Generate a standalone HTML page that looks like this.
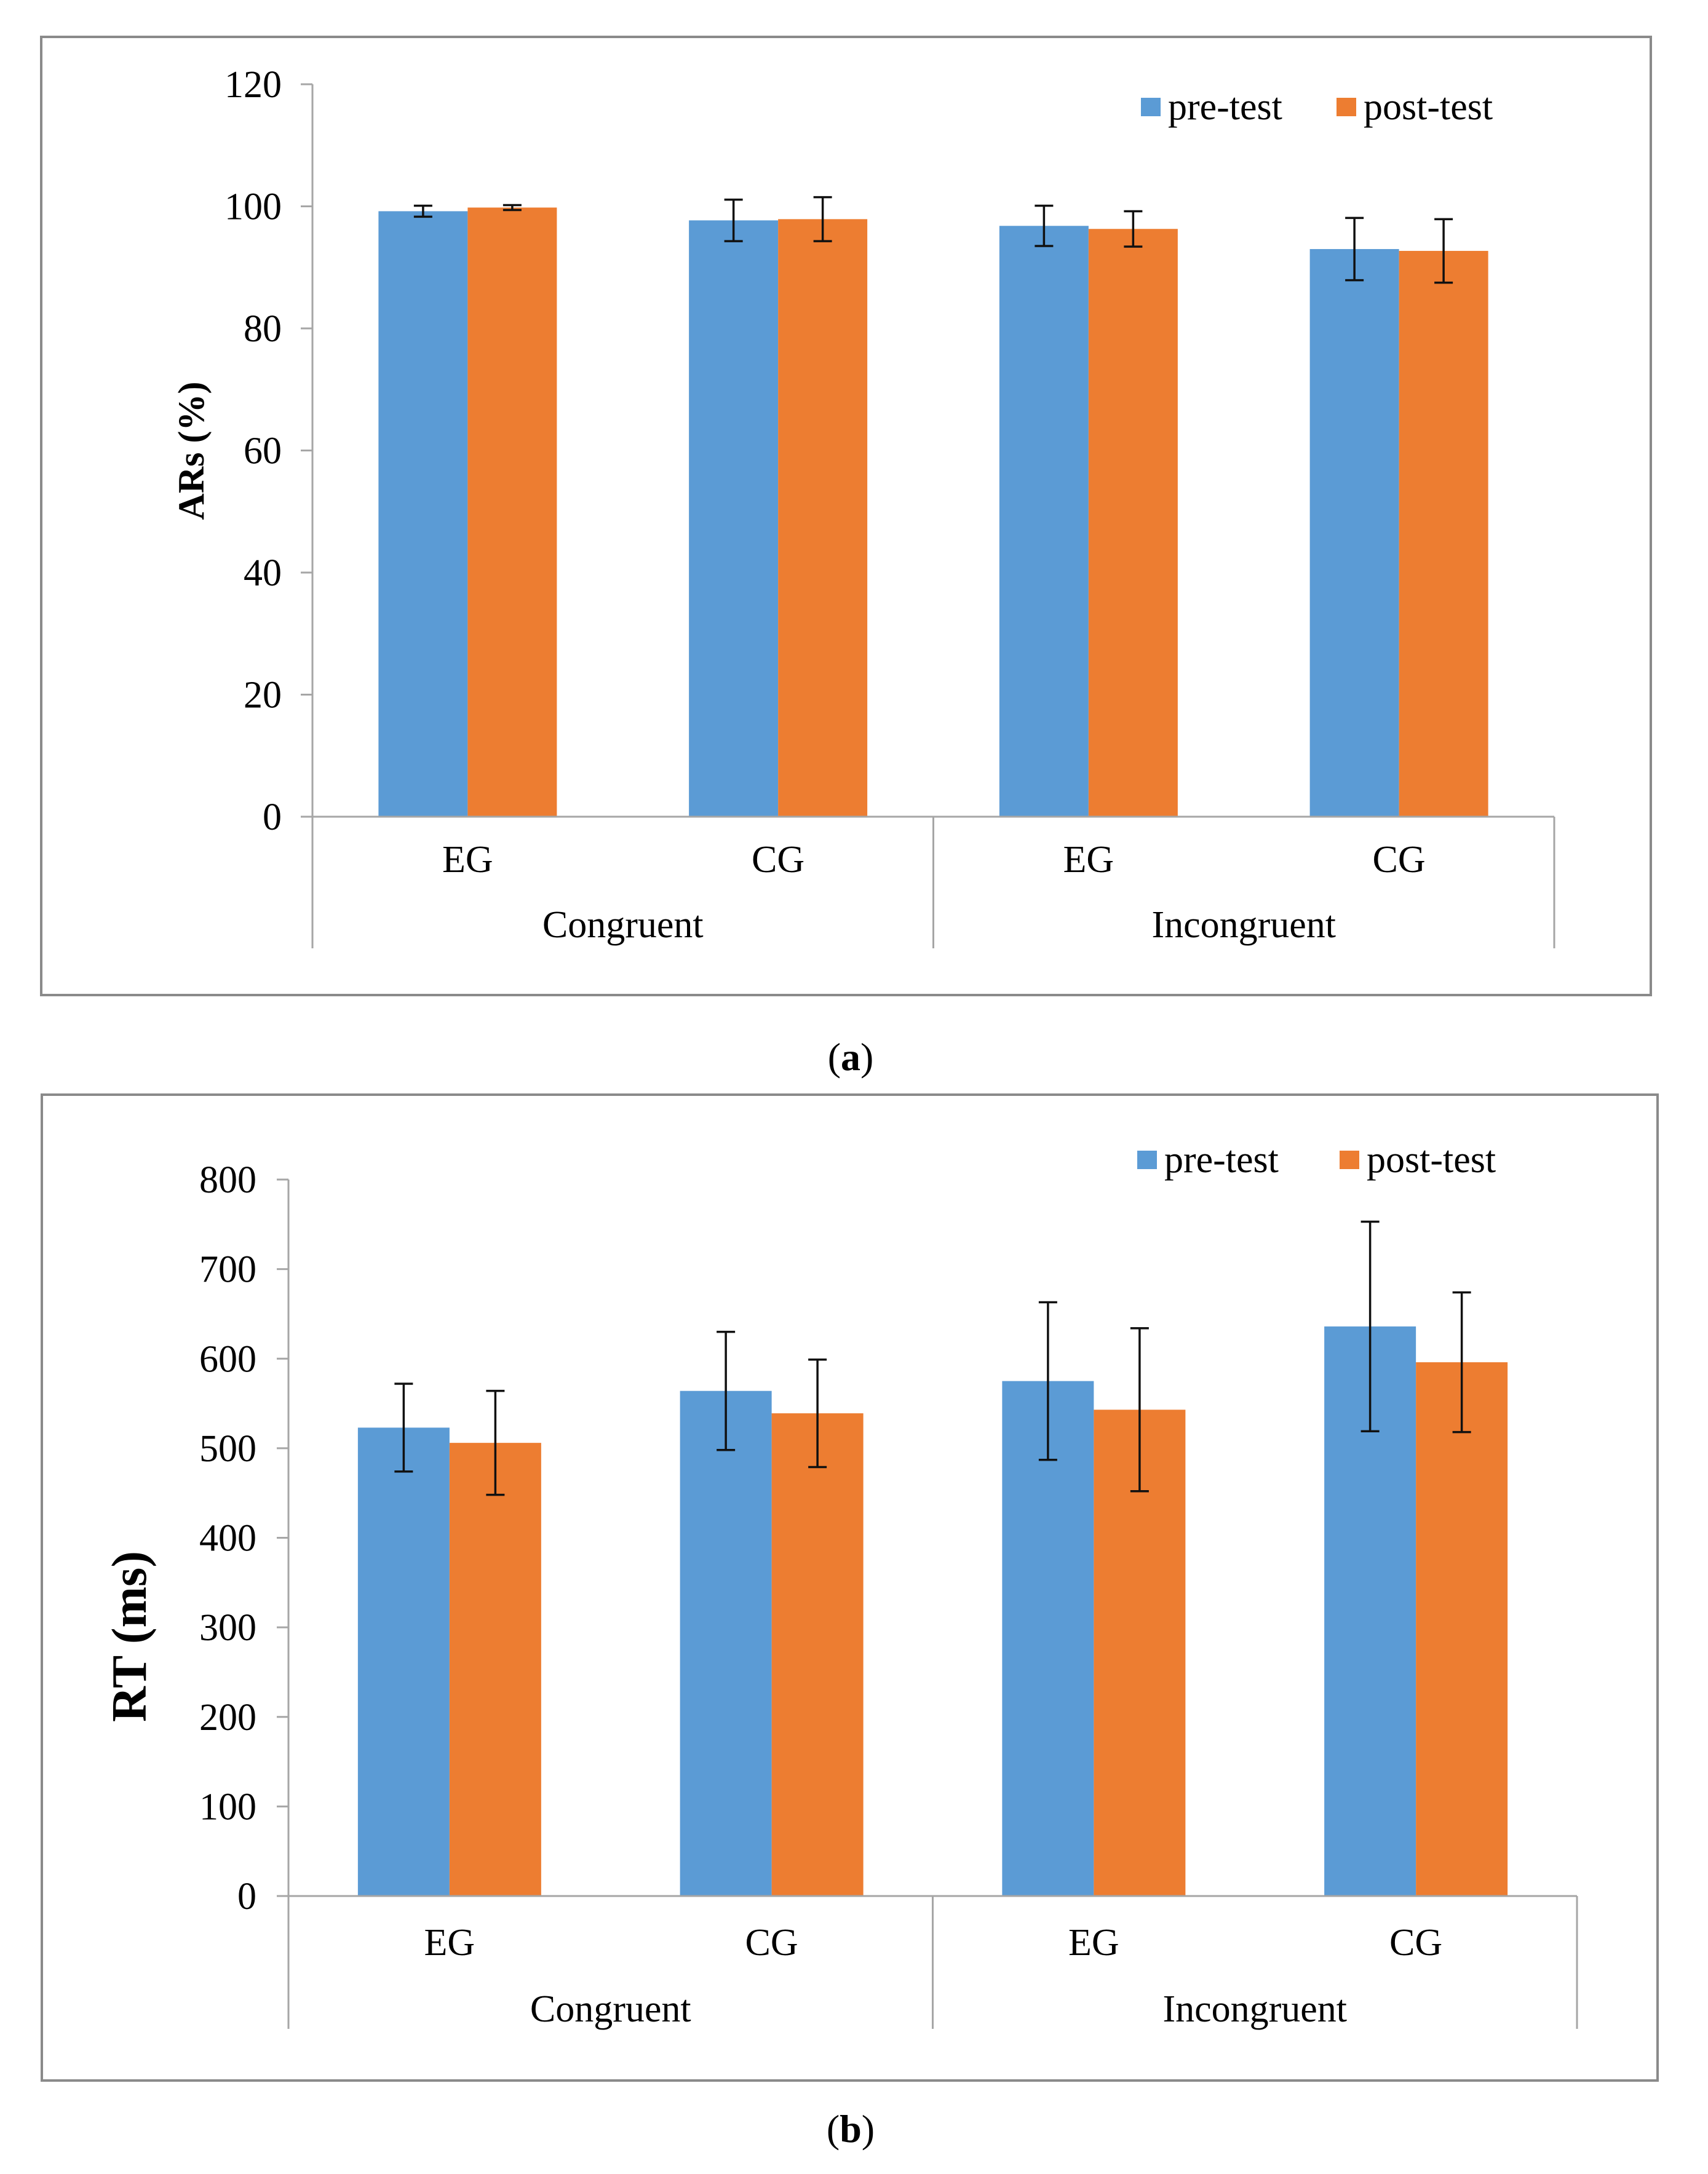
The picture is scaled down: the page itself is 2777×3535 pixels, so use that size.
<!DOCTYPE html>
<html><head><meta charset="utf-8"><style>
html,body{margin:0;padding:0;background:#fff;}
svg{display:block;}
text{font-family:"Liberation Serif","Times New Roman",serif;fill:#000;}
</style></head>
<body>
<svg id="fig" width="2777" height="3535" viewBox="0 0 2777 3535" xmlns="http://www.w3.org/2000/svg">
<rect x="0" y="0" width="2777" height="3535" fill="#fff"/>
</svg>
<script>
// ---- Chart (a): accuracy rates ----
const aGroups = ["Congruent", "Incongruent"];
const aCategories = ["EG", "CG", "EG", "CG"];
const aPre = [99.2, 97.7, 96.8, 93.0];
const aPost = [99.8, 97.9, 96.3, 92.7];
const aPreErr = [0.9, 3.4, 3.3, 5.1];
const aPostErr = [0.4, 3.6, 2.9, 5.2];
const aTicks = [0, 20, 40, 60, 80, 100, 120];
// ---- Chart (b): reaction times ----
const bGroups = ["Congruent", "Incongruent"];
const bCategories = ["EG", "CG", "EG", "CG"];
const bPre = [523, 564, 575, 636];
const bPost = [506, 539, 543, 596];
const bPreErr = [49, 66, 88, 117];
const bPostErr = [58, 60, 91, 78];
const bTicks = [0, 100, 200, 300, 400, 500, 600, 700, 800];
const seriesNames = ["pre-test", "post-test"];

const NS = "http://www.w3.org/2000/svg";
const svg = document.getElementById("fig");
function mk(tag, attrs, parent) {
  const e = document.createElementNS(NS, tag);
  for (const k in attrs) e.setAttribute(k, attrs[k]);
  (parent || svg).appendChild(e);
  return e;
}

function drawChart(cfg) {
  const g = mk("g", {});
  
  
  const fr = mk("rect", {x: cfg.frame[0], y: cfg.frame[1], width: cfg.frame[2]-cfg.frame[0], height: cfg.frame[3]-cfg.frame[1], fill: "#fff", stroke: "#8a8a8a", "stroke-width": 4}, g);
  
  
  const x0 = cfg.axisX, x1 = cfg.axisEnd;
  const yScale = v => cfg.zeroY - (v - cfg.ticks[0]) / (cfg.ticks[cfg.ticks.length-1] - cfg.ticks[0]) * (cfg.zeroY - cfg.topY);
  const n = cfg.categories.length;
  const slot = (x1 - x0) / n;
  const xCenter = i => x0 + slot * (i + 0.5);
  const ya = mk("line", {x1: x0, y1: yScale(cfg.ticks[cfg.ticks.length-1]), x2: x0, y2: cfg.sepBottom, stroke: "#a6a6a6", "stroke-width": 3}, g);
  
  
  cfg.ticks.forEach(t => {
    const y = yScale(t);
    const tk = mk("line", {x1: x0 - 19, y1: y, x2: x0, y2: y, stroke: "#a6a6a6", "stroke-width": 3}, g);
    
    
    const tl = mk("text", {x: x0 - cfg.tickGap, y: y + 21, "text-anchor": "end", "font-size": 62}, g);
    tl.textContent = t;
    
    
  });
  const bw = cfg.barW;
  for (let i = 0; i < n; i++) {
    const c = xCenter(i);
    [[cfg.pre, cfg.preErr, "#5b9bd5", c - bw, "pre"], [cfg.post, cfg.postErr, "#ed7d31", c, "post"]].forEach(s => {
      const v = s[0][i], e = s[1][i];
      const r = mk("rect", {x: s[3], y: yScale(v), width: bw, height: yScale(cfg.ticks[0]) - yScale(v), fill: s[2]}, g);
      
      
      const ex = s[3] + bw / 2;
      const eb = mk("path", {d: `M${ex},${yScale(v+e)}V${yScale(v-e)}M${ex-15},${yScale(v+e)}H${ex+15}M${ex-15},${yScale(v-e)}H${ex+15}`, stroke: "#111", "stroke-width": 3.5, fill: "none"}, g);
      
      
    });
    const cl = mk("text", {x: c, y: cfg.catY, "text-anchor": "middle", "font-size": 62}, g);
    cl.textContent = cfg.categories[i];
    
    
  }
  const xa = mk("line", {x1: x0 - 19, y1: cfg.zeroY, x2: x1, y2: cfg.zeroY, stroke: "#a6a6a6", "stroke-width": 3}, g);
  
  
  const per = n / cfg.groups.length;
  for (let k = 0; k <= cfg.groups.length; k++) {
    const sx = x0 + slot * per * k;
    const sp = mk("line", {x1: sx, y1: cfg.zeroY, x2: sx, y2: cfg.sepBottom, stroke: "#a6a6a6", "stroke-width": 3}, g);
    
    
  }
  cfg.groups.forEach((gn, k) => {
    const gl = mk("text", {x: x0 + slot * per * (k + 0.5), y: cfg.groupY, "text-anchor": "middle", "font-size": 62}, g);
    gl.textContent = gn;
    
    
  });
  const yt = mk("text", {x: cfg.titleX, y: cfg.titleY, "text-anchor": "middle", "font-size": cfg.titleSize, "font-weight": "bold", transform: `rotate(-90 ${cfg.titleX} ${cfg.titleY})`}, g);
  yt.textContent = cfg.title;
  
  
  const colors = ["#5b9bd5", "#ed7d31"];
  seriesNames.forEach((nm, k) => {
    const lx = cfg.legendX[k];
    const sq = mk("rect", {x: lx, y: cfg.legendY - 15, width: 32, height: 30, fill: colors[k]}, g);
    
    
    const lt = mk("text", {x: lx + 44, y: cfg.legendY + 20, "font-size": 62}, g);
    lt.textContent = nm;
    
    
  });
  const pl = mk("text", {x: 1383, y: cfg.panelY, "text-anchor": "middle", "font-size": 64}, g);
  pl.innerHTML = '(<tspan font-weight="bold">' + cfg.panel + '</tspan>)';
  
  
}

drawChart({name: "chart-accuracy", frame: [67, 60, 2684, 1618], axisX: 508, axisEnd: 2527, zeroY: 1328, topY: 137,
  ticks: aTicks, tickGap: 50, barW: 145, categories: aCategories, groups: aGroups, pre: aPre, post: aPost, preErr: aPreErr, postErr: aPostErr,
  catY: 1418, groupY: 1524, sepBottom: 1542, title: "ARs (%)", titleX: 331, titleY: 733, titleSize: 60,
  legendX: [1855, 2173], legendY: 174, panel: "a", panelY: 1740});

drawChart({name: "chart-reaction-time", frame: [68, 1780, 2695, 3383], axisX: 469, axisEnd: 2564, zeroY: 3083, topY: 1918,
  ticks: bTicks, tickGap: 52, barW: 149, categories: bCategories, groups: bGroups, pre: bPre, post: bPost, preErr: bPreErr, postErr: bPostErr,
  catY: 3179, groupY: 3287, sepBottom: 3299, title: "RT (ms)", titleX: 237, titleY: 2661, titleSize: 80,
  legendX: [1849, 2178], legendY: 1886, panel: "b", panelY: 3483});
</script>
</body></html>
